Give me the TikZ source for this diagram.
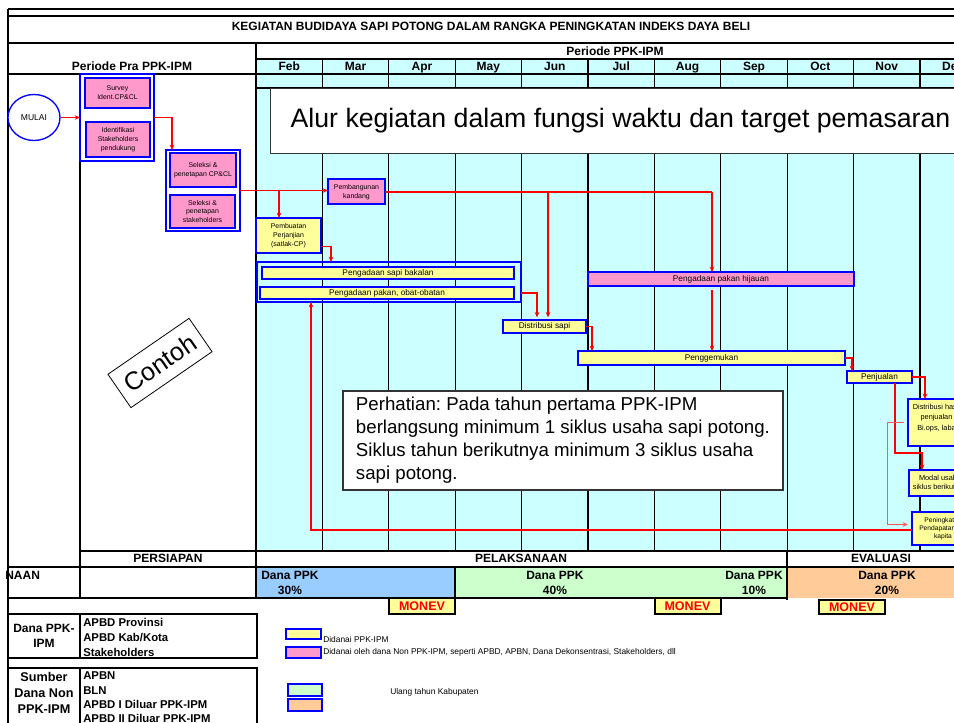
\documentclass[tikz,border=0pt]{standalone}
\usepackage{fontspec}
\setmainfont{Liberation Sans}
\frenchspacing
\usetikzlibrary{arrows.meta,shapes.geometric}

\definecolor{cyanbg}{HTML}{CCFFFF}
\definecolor{pinkfill}{HTML}{FF99CC}
\definecolor{yellowfill}{HTML}{FFFF99}
\definecolor{bluecell}{HTML}{99CCFF}
\definecolor{greencell}{HTML}{CCFFCC}
\definecolor{orangecell}{HTML}{FFCC99}

\tikzset{
  box/.style={draw=blue,line width=1.5pt,inner sep=0pt,outer sep=0pt,align=center,
    font=\fontsize{5.2}{6.6}\selectfont},
  pinkbox/.style={box,fill=pinkfill},
  yellowbox/.style={box,fill=yellowfill},
  ybar/.style={yellowbox,font=\fontsize{6.2}{7}\selectfont},
  pbar/.style={pinkbox,font=\fontsize{6.2}{7}\selectfont},
  groupbox/.style={draw=blue,line width=0.8pt,inner sep=0pt,outer sep=0pt},
  hdr/.style={font=\fontsize{9}{11.25}\selectfont\bfseries,inner sep=0pt},
  small/.style={font=\fontsize{6.3}{7.5}\selectfont,inner sep=0pt},
  note/.style={draw=black!80,line width=0.8pt,fill=white,inner sep=0pt},
  monev/.style={draw=black,line width=1.5pt,fill=yellowfill,text=red,inner sep=0pt,
    font=\fontsize{9.4}{11}\selectfont\bfseries,minimum width=49.5pt,minimum height=12pt},
  arr/.style={red,line width=0.8pt,-{Stealth[length=4pt,width=3.5pt]}}
}

\begin{document}
\begin{tikzpicture}[x=0.75pt,y=-0.75pt,line join=miter]
\useasboundingbox (0,0) rectangle (954,723);
\clip (0,0) rectangle (954,723);

% background
\fill[white] (0,0) rectangle (954,723);
\fill[cyanbg] (256,59) rectangle (954,551);
\fill[bluecell] (256,567) rectangle (455,598);
\fill[greencell] (455,567) rectangle (787,598);
\fill[orangecell] (787,567) rectangle (954,598);

% frame and grid
\draw[line width=2.2pt] (8,9) -- (954,9);
\draw[line width=1pt] (8,16) -- (954,16);
\draw[line width=2.2pt] (8,9) -- (8,723);
\draw[line width=0.8pt] (8,43) -- (954,43);
\draw[line width=1.2pt] (256,59) -- (954,59);
\draw[line width=1pt] (8,74) -- (954,74);
\draw[line width=1pt] (256,88) -- (954,88);
\foreach \i in {1,...,10}
  \draw[line width=1pt] ({256+66.4*\i},59) -- ({256+66.4*\i},551);
\draw[line width=1.5pt] (787,551) -- (787,600);
\draw[line width=1.4pt] (256,43) -- (256,598);
\draw[line width=1.2pt] (80,74) -- (80,598);
\draw[line width=1.2pt] (80,551) -- (954,551);
\draw[line width=1.8pt] (8,567) -- (954,567);
\draw[line width=1.8pt] (8,598) -- (787,598);
\draw[line width=0.8pt] (455,567) -- (455,598);

% headings
\node[hdr] (judul) at (491,26) {KEGIATAN BUDIDAYA SAPI POTONG DALAM RANGKA PENINGKATAN INDEKS DAYA BELI};
\node[hdr,anchor=base] (pra) at (132,71) {Periode Pra PPK-IPM};
\node[hdr,anchor=base] (periode) at (615,56) {Periode PPK-IPM};
\foreach \m [count=\i from 0] in {Feb,Mar,Apr,May,Jun,Jul,Aug,Sep,Oct,Nov,Dec}
  \node[hdr,anchor=base] (bulan\i) at ({256+66.4*(\i+0.5)},71) {\m};

\node[note,minimum width=525pt,minimum height=48.75pt,anchor=north west,
  font=\fontsize{20}{24}\selectfont] (alur) at (270,88)
  {Alur kegiatan dalam fungsi waktu dan target pemasaran};

% persiapan
\node[ellipse,draw=blue,line width=1pt,fill=white,inner sep=0pt,minimum width=39pt,
  minimum height=34.5pt,font=\fontsize{6.4}{7.5}\selectfont] (mulai) at (34,117.5) {MULAI};
\node[groupbox,minimum width=55.5pt,minimum height=65.25pt] (grup1) at (117,117.5) {};
\node[pinkbox,minimum width=48.75pt,minimum height=22.5pt] (survey) at (117.5,93) {Survey\\Ident.CP\&CL};
\node[pinkbox,minimum width=48pt,minimum height=26.25pt] (identifikasi) at (118,139.5) {Identifikasi\\Stakeholders\\pendukung};
\node[groupbox,minimum width=55.5pt,minimum height=60.75pt] (grup2) at (203,190.5) {};
\node[pinkbox,minimum width=49.5pt,minimum height=25.5pt] (seleksi1) at (203,170) {Seleksi \&\\penetapan CP\&CL};
\node[pinkbox,minimum width=48.75pt,minimum height=24.75pt] (seleksi2) at (202.5,211.5) {Seleksi \&\\penetapan\\stakeholders};

% pelaksanaan
\node[pinkbox,minimum width=42.75pt,minimum height=18.75pt] (kandang) at (356.5,192) {Pembangunan\\kandang};
\node[yellowbox,minimum width=48.75pt,minimum height=26.25pt] (perjanjian) at (288.5,235.5) {Pembuatan\\Perjanjian\\(satlak-CP)};
\node[groupbox,minimum width=198pt,minimum height=30pt] (grup3) at (389,282) {};
\node[ybar,minimum width=189pt,minimum height=9pt] (bakalan) at (388,273) {Pengadaan sapi bakalan};
\node[ybar,minimum width=190.5pt,minimum height=9pt] (pakan) at (387,293) {Pengadaan pakan, obat-obatan};
\node[ybar,minimum width=62.25pt,minimum height=9.75pt] (distsapi) at (544.5,326.5) {Distribusi sapi};
\node[pbar,minimum width=199.5pt,minimum height=10.5pt] (hijauan) at (721,279) {Pengadaan pakan hijauan};
\node[ybar,minimum width=200.25pt,minimum height=10.5pt] (gemuk) at (711.5,358) {Penggemukan};
\node[ybar,minimum width=48.75pt,minimum height=9pt] (jual) at (879.5,377) {Penjualan};
\node[yellowbox,minimum width=42.75pt,minimum height=35.25pt,font=\fontsize{5.5}{8}\selectfont] (disthasil) at (936.5,422.5) {Distribusi hasil\\penjualan\\Bi.ops, laba\\~};
\node[yellowbox,minimum width=46.5pt,minimum height=19.5pt,font=\fontsize{5.5}{6.8}\selectfont] (modal) at (940,483) {Modal usaha\\siklus berikutnya};
\node[yellowbox,minimum width=46.5pt,minimum height=24.75pt,font=\fontsize{5}{6}\selectfont] (naik) at (943,528.5) {Peningkatan\\Pendapatan per\\kapita};

% arrows
\draw[arr] (mulai) -- (grup1);
\coordinate (t1) at (172,0);
\draw[arr] (grup1.east) -| (grup2.north -| t1);
\coordinate (t2) at (279,0);
\draw[arr] (grup2.east) -- (grup2.east -| kandang.west);
\draw[arr] (grup2.east -| t2) -- (perjanjian.north -| t2);
\coordinate (t3) at (548,0);
\coordinate (t4) at (712,0);
\draw[red,line width=0.8pt] (kandang.east) -- (kandang.east -| t4);
\draw[arr] (kandang.east -| t4) -- (hijauan.north -| t4);
\draw[arr] (kandang.east -| t3) -- ([yshift=2pt]distsapi.north -| t3);
\draw[arr,shorten <=3pt] (hijauan.south -| t4) -- (gemuk.north -| t4);
\coordinate (t5) at (331,0);
\draw[arr] ([yshift=-8.6pt]perjanjian.east) -| (grup3.north -| t5);
\coordinate (t6) at (537,0);
\draw[arr] (grup3.east |- pakan.east) -| ([yshift=2pt]distsapi.north -| t6);
\coordinate (t7) at (592,0);
\draw[arr] (distsapi.east) -| (gemuk.north -| t7);
\coordinate (t8) at (852,0);
\draw[arr] (gemuk.east) -| (jual.north -| t8);
\coordinate (t9) at (925,0);
\draw[arr] (jual.east) -| (disthasil.north -| t9);
\coordinate (m1) at (895,453);
\coordinate (m2) at (922,453);
\draw[arr] (jual.south -| m1) -- (m1) -- (m2) -- (modal.north -| m2);
\coordinate (p1) at (887,0);
\draw[arr,red!65,line width=0.6pt,shorten >=3pt] ([xshift=-3pt]disthasil.west) -| ([yshift=3pt]naik.west -| p1) -- ([yshift=3pt]naik.west);
\coordinate (t10) at (311,0);
\draw[arr,line width=1.5pt] ([yshift=-1.5pt]naik.west) -| (grup3.south -| t10);

% notes
\node[note,minimum width=330pt,minimum height=74.25pt,align=left,
  font=\fontsize{14}{17.25}\selectfont] (perhatian) at (563,440.5)
  {Perhatian: Pada tahun pertama PPK-IPM\\berlangsung minimum 1 siklus usaha sapi potong.\\Siklus tahun berikutnya minimum 3 siklus usaha\\sapi potong.};
\node[draw,line width=0.6pt,rotate=34.6,minimum width=73.9pt,minimum height=30.4pt,
  font=\fontsize{19}{22}\selectfont] (contoh) at (160,363) {Contoh};

% phases and funds
\node[hdr,anchor=base] (persiapan) at (168,563) {PERSIAPAN};
\node[hdr,anchor=base] (pelaksanaan) at (521,563) {PELAKSANAAN};
\node[hdr,anchor=base] (evaluasi) at (881,563) {EVALUASI};
\node[hdr,anchor=west] (naan) at (5,575) {NAAN};
\node[hdr,align=center] (dana30) at (290,583) {Dana PPK\\30\%};
\node[hdr,align=center] (dana40) at (555,583) {Dana PPK\\40\%};
\node[hdr,align=center] (dana10) at (754,583) {Dana PPK\\10\%};
\node[hdr,align=center] (dana20) at (887,583) {Dana PPK\\20\%};
\node[monev] (monev1) at (422,606) {MONEV};
\node[monev] (monev2) at (687.5,606) {MONEV};
\node[monev,minimum height=10.5pt] (monev3) at (852,607) {MONEV};

% sources
\draw[line width=1.5pt] (8,614) rectangle (257,658);
\draw[line width=1.5pt] (80,614) -- (80,658);
\node[hdr,align=center] (danaipm) at (44,636) {Dana PPK-\\IPM};
\node[hdr,align=left,anchor=west,font=\fontsize{8.5}{11.25}\selectfont\bfseries] (sumber1) at (83,637) {APBD Provinsi\\APBD Kab/Kota\\Stakeholders};
\draw[line width=1.5pt] (8,668) rectangle (257,740);
\draw[line width=1.5pt] (80,668) -- (80,740);
\node[hdr,align=center,font=\fontsize{9.5}{12}\selectfont\bfseries] (nonipm) at (44,693) {Sumber\\Dana Non\\PPK-IPM};
\node[hdr,align=left,anchor=west,font=\fontsize{8.5}{10.75}\selectfont\bfseries] (sumber2) at (83,697.5) {APBN\\BLN\\APBD I Diluar PPK-IPM\\APBD II Diluar PPK-IPM};

% legend
\node[yellowbox,minimum width=26.25pt,minimum height=7.5pt] (legkuning) at (303.5,634) {};
\node[small,anchor=west] (tekskuning) at (323,639) {Didanai PPK-IPM};
\node[pinkbox,minimum width=26.25pt,minimum height=8.25pt] (legpink) at (303.5,652.5) {};
\node[small,anchor=west] (tekspink) at (323,652.5) {Didanai oleh dana Non PPK-IPM, seperti APBD, APBN, Dana Dekonsentrasi, Stakeholders, dll};
\node[box,fill=greencell,minimum width=25.5pt,minimum height=9pt] (leghijau) at (305,690) {};
\node[box,fill=orangecell,minimum width=25.5pt,minimum height=9pt] (legoranye) at (305,705) {};
\node[small,anchor=west] (teksultah) at (390,692) {Ulang tahun Kabupaten};

\end{tikzpicture}
\end{document}
